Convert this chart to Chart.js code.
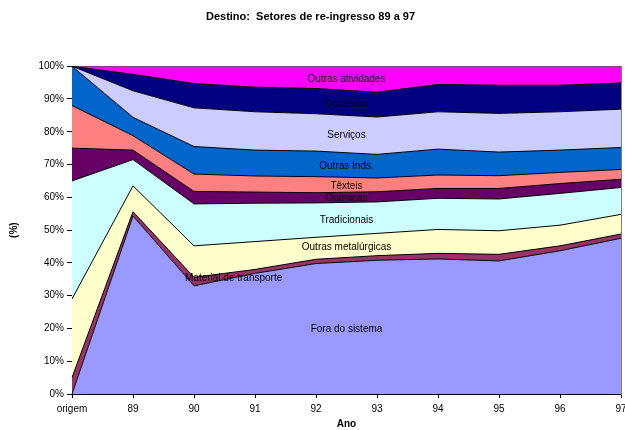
<!DOCTYPE html>
<html>
<head>
<meta charset="utf-8">
<script src="https://cdn.jsdelivr.net/npm/chart.js@4/dist/chart.umd.min.js"></script>
<style>
  body { margin: 0; background: #fff; }
  #wrap { width: 625px; height: 430px; }
</style>
</head>
<body>
<div id="wrap"><canvas id="myChart"></canvas></div>
<script>
const anos = ['origem', '89', '90', '91', '92', '93', '94', '95', '96', '97'];

// shares (%) per sector, bottom to top of the stack
const foraDoSistema        = [0,   54.3, 33.0, 36.8, 39.8, 40.8, 41.2, 40.6, 43.7, 47.5];
const materialTransporte   = [5,   1.3,  2.6,  1.2,  1.3,  1.4,  1.7,  2.0,  1.5,  1.3];
const outrasMetalurgicas   = [24,  7.9,  9.6,  8.5,  6.7,  6.8,  7.3,  7.2,  6.3,  6.0];
const tradicionais         = [36,  8.0,  12.8, 11.7, 10.5, 9.6,  9.5,  9.7,  9.7,  8.2];
const quimicas             = [10,  2.9,  3.8,  3.4,  3.1,  3.1,  3.0,  3.2,  3.0,  2.5];
const texteis              = [13,  4.4,  5.3,  4.9,  4.9,  4.2,  4.1,  3.9,  3.4,  3.0];
const outrasInds           = [12,  5.6,  8.4,  7.9,  7.8,  7.2,  7.9,  7.2,  6.8,  6.7];
const servicos             = [0,   8.1,  11.8, 11.7, 11.4, 11.4, 11.4, 11.8, 11.7, 11.7];
const comercio             = [0,   5.0,  7.4,  7.5,  7.7,  7.6,  8.3,  8.6,  8.1,  8.0];
const outrasAtividades     = [0,   2.5,  5.3,  6.4,  6.8,  7.9,  5.6,  5.8,  5.8,  5.1];

const yTicks = [0, 10, 20, 30, 40, 50, 60, 70, 80, 90, 100];

const series = [
  ['Fora do sistema', foraDoSistema, '#9999FF'],
  ['Material de transporte', materialTransporte, '#993366'],
  ['Outras metalúrgicas', outrasMetalurgicas, '#FFFFCC'],
  ['Tradicionais', tradicionais, '#CCFFFF'],
  ['Químicas', quimicas, '#660066'],
  ['Têxteis', texteis, '#FF8080'],
  ['Outras Inds.', outrasInds, '#0066CC'],
  ['Serviços', servicos, '#CCCCFF'],
  ['Comércio', comercio, '#000080'],
  ['Outras atividades', outrasAtividades, '#FF00FF']
];

const FONT = 'Liberation Sans, Arial, sans-serif';

// where (category index) each name is written inside its band
const labelAt = [4.5, 2.65, 4.5, 4.5, 4.5, 4.5, 4.5, 4.5, 4.5, 4.5];

const areaLabels = {
  id: 'areaLabels',
  afterDatasetsDraw(chart) {
    const ctx = chart.ctx;
    const xs = chart.scales.x, ys = chart.scales.y;
    ctx.save();
    ctx.font = '10px ' + FONT;
    ctx.fillStyle = '#000';
    ctx.textAlign = 'center';
    ctx.textBaseline = 'middle';
    series.forEach((s, i) => {
      const at = labelAt[i];
      const i0 = Math.floor(at), t = at - i0;
      const base = k => series.slice(0, i).reduce((a, d) => a + d[1][k], 0);
      const b = base(i0) * (1 - t) + base(i0 + 1) * t;
      const v = s[1][i0] * (1 - t) + s[1][i0 + 1] * t;
      const px = xs.getPixelForValue(i0) * (1 - t) + xs.getPixelForValue(i0 + 1) * t;
      const py = ys.getPixelForValue(b + v / 2) + (i === 1 ? 3 : 1);
      ctx.fillText(s[0], px, py);
    });
    ctx.restore();
  }
};

new Chart(document.getElementById('myChart'), {
  type: 'line',
  data: {
    labels: anos,
    datasets: series.map((s, i) => ({
      label: s[0],
      data: s[1],
      backgroundColor: s[2],
      borderColor: '#000',
      borderWidth: 1,
      fill: i === 0 ? 'origin' : '-1',
      pointRadius: 0,
      tension: 0
    }))
  },
  options: {
    responsive: true,
    maintainAspectRatio: false,
    animation: false,
    layout: { padding: { left: 0, right: 4, top: 0, bottom: 0 } },
    plugins: {
      legend: { display: false },
      tooltip: { enabled: false },
      title: {
        display: true,
        text: 'Destino:  Setores de re-ingresso 89 a 97',
        color: '#000',
        font: { family: FONT, size: 11, weight: 'bold' },
        padding: { top: 10, bottom: 43 }
      }
    },
    scales: {
      x: {
        grid: { display: true, drawOnChartArea: false, color: '#000', tickLength: 4 },
        border: { color: '#000' },
        ticks: { color: '#000', font: { family: FONT, size: 10 }, maxRotation: 0, autoSkip: false, padding: 5 },
        title: { display: true, text: 'Ano', color: '#000', font: { family: FONT, size: 10, weight: 'bold' }, padding: { top: 0, bottom: 0 } },
        afterFit(scale) { scale.height = 36; scale.paddingLeft = 0; scale.paddingRight = 0; }
      },
      y: {
        stacked: true,
        min: 0,
        max: 100,
        afterBuildTicks(scale) { scale.ticks = yTicks.map(v => ({ value: v })); },
        grid: { display: true, drawOnChartArea: false, color: '#000', tickLength: 5 },
        border: { color: '#000' },
        ticks: { color: '#000', font: { family: FONT, size: 10 }, padding: 3, callback: v => v + '%' },
        title: { display: true, text: '(%)', color: '#000', font: { family: FONT, size: 10, weight: 'bold' }, padding: { top: 8, bottom: 0 } },
        afterFit(scale) { scale.width = 72; }
      },
      yRight: {
        position: 'right',
        min: 0,
        max: 100,
        grid: { display: false },
        border: { color: '#808080' },
        ticks: { display: false },
        afterFit(scale) { scale.width = 0; }
      }
    }
  },
  plugins: [areaLabels]
});
</script>
</body>
</html>
